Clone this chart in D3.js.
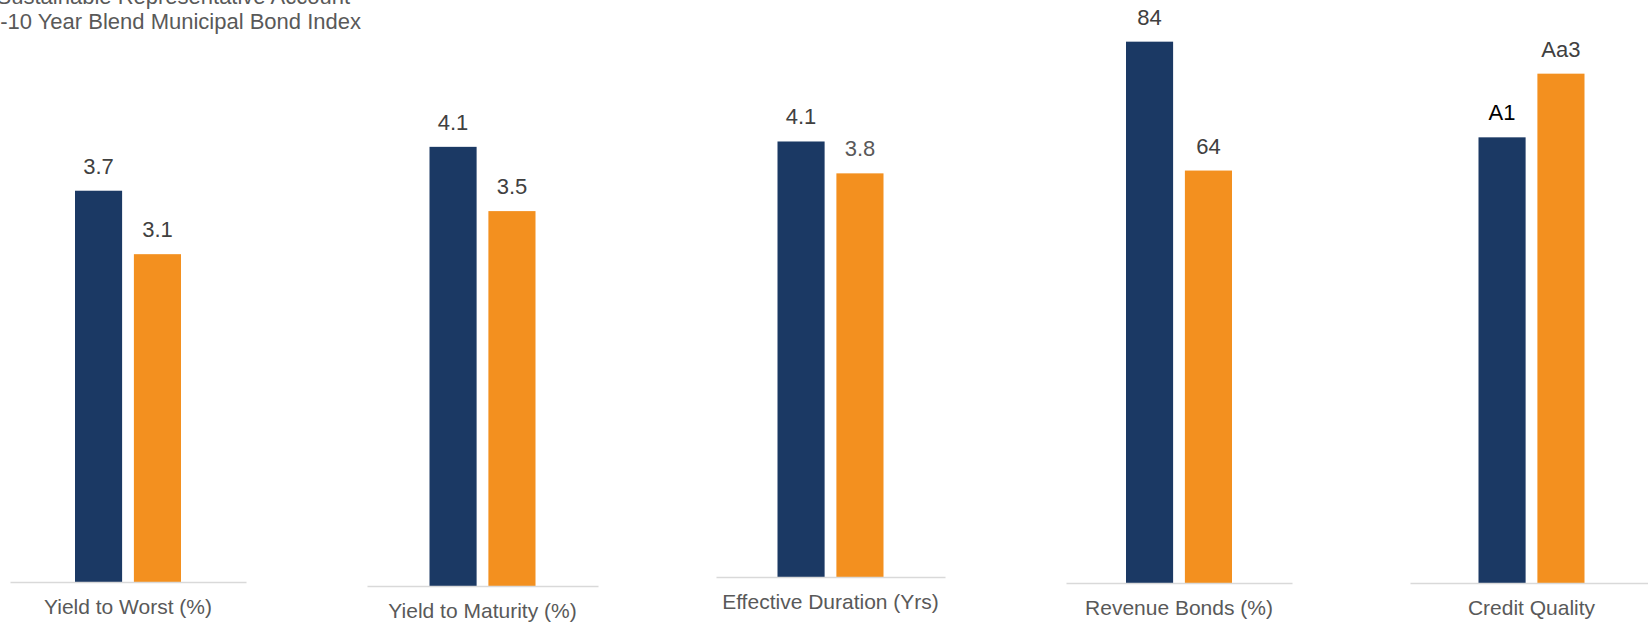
<!DOCTYPE html>
<html>
<head>
<meta charset="utf-8">
<script src="https://cdn.jsdelivr.net/npm/d3@7"></script>
<style>
  html, body { margin: 0; padding: 0; background: #fff; overflow: hidden; }
  svg { display: block; font-family: "Liberation Sans", Arial, sans-serif; }
</style>
</head>
<body>
<svg id="chart" width="1648" height="627"></svg>
<script>
// ---- data ----
const categories = ["Yield to Worst (%)", "Yield to Maturity (%)", "Effective Duration (Yrs)", "Revenue Bonds (%)", "Credit Quality"];
const seriesNames = ["Sustainable Representative Account", "1-10 Year Blend Municipal Bond Index"];
const accountValues = [3.7, 4.1, 4.1, 84, null];
const indexValues   = [3.1, 3.5, 3.8, 64, null];
// credit quality is shown as a rating; bars use the rating's rank on this scale
const ratingScale = ["Ba1", "Baa3", "Baa2", "Baa1", "A3", "A2", "A1", "Aa3", "Aa2", "Aa1", "Aaa"];
const accountRating = "A1";
const indexRating = "Aa3";

// ---- layout of the five small panels ----
const panels = [
  { x0: 10,   x1: 246,  base: 582, yMax: 4,   h: 423 },
  { x0: 367,  x1: 598,  base: 586, yMax: 4.5, h: 482 },
  { x0: 716,  x1: 945,  base: 577, yMax: 4.5, h: 478 },
  { x0: 1066, x1: 1292, base: 583, yMax: 90,  h: 580 },
  { x0: 1410, x1: 1653, base: 583, yMax: 9,   h: 573 }
];
const colors = { account: "#1b3964", index: "#f3901f" };
const labelColors = [
  ["#404040", "#404040"],
  ["#404040", "#404040"],
  ["#404040", "#595959"],
  ["#404040", "#404040"],
  ["#000000", "#404040"]
];

const rank = r => ratingScale.indexOf(r) + 1;

const rows = categories.map((c, i) => {
  const isRating = accountValues[i] === null;
  return {
    category: c,
    bars: [
      { key: "account", value: isRating ? rank(accountRating) : accountValues[i], label: isRating ? accountRating : String(accountValues[i]) },
      { key: "index",   value: isRating ? rank(indexRating)   : indexValues[i],   label: isRating ? indexRating   : String(indexValues[i]) }
    ]
  };
});

const svg = d3.select("#chart");

rows.forEach((row, i) => {
  const p = panels[i];
  const g = svg.append("g");
  const cx = (p.x0 + p.x1) / 2;

  const y = d3.scaleLinear().domain([0, p.yMax]).range([p.base, p.base - p.h]);
  const xb = d3.scaleBand().domain(["account", "index"])
    .range([cx - 53, cx + 53]).paddingInner(0.2).paddingOuter(0);

  g.selectAll("rect.bar").data(row.bars).join("rect")
    .attr("class", "bar")
    .attr("x", d => xb(d.key))
    .attr("width", xb.bandwidth())
    .attr("y", d => y(d.value))
    .attr("height", d => y(0) - y(d.value))
    .attr("fill", d => colors[d.key]);

  g.selectAll("text.val").data(row.bars).join("text")
    .attr("class", "val")
    .attr("x", d => xb(d.key) + xb.bandwidth() / 2)
    .attr("y", d => y(d.value) - 17)
    .attr("text-anchor", "middle")
    .attr("font-size", 22)
    .attr("fill", (d, j) => labelColors[i][j])
    .text(d => d.label);

  // category axis: baseline and centered category name
  const xc = d3.scaleBand().domain([row.category]).range([p.x0, p.x1]);
  const axis = g.append("g")
    .attr("transform", `translate(0,${p.base})`)
    .call(d3.axisBottom(xc).tickSize(0).tickSizeOuter(0).tickPadding(17));
  axis.select(".domain").attr("stroke", "#d9d9d9").attr("stroke-width", 1.5);
  axis.selectAll(".tick text")
    .attr("font-size", 21)
    .attr("font-family", "\"Liberation Sans\", Arial, sans-serif")
    .attr("fill", "#595959");
});

// legend (top-left)
const legend = svg.append("g");
legend.selectAll("text").data(seriesNames).join("text")
  .attr("x", (d, i) => i === 0 ? 350 : 361)
  .attr("y", (d, i) => 4 + i * 25)
  .attr("text-anchor", "end")
  .attr("font-size", 22)
  .attr("fill", "#595959")
  .text(d => d);
</script>
</body>
</html>
